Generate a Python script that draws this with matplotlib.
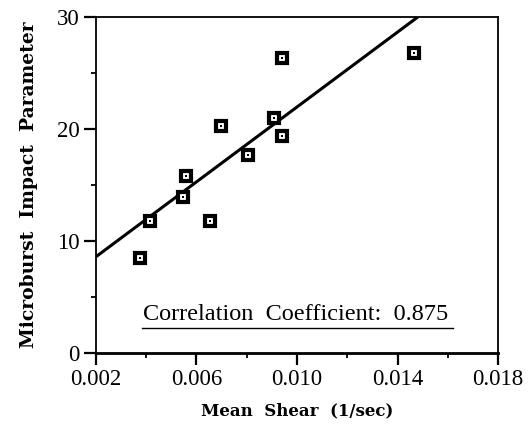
import numpy as np
import matplotlib.pyplot as plt
from matplotlib.ticker import MultipleLocator

plt.rcParams["font.family"] = ["Liberation Serif", "DejaVu Serif"]

# values
mean_shear = [0.00376, 0.00415, 0.00547, 0.00559, 0.00655, 0.00698,
              0.00804, 0.00908, 0.00941, 0.00941, 0.01466]
impact_param = [8.5, 11.8, 13.9, 15.8, 11.8, 20.3,
                17.7, 21.0, 26.3, 19.4, 26.8]
fit_x = [0.002, 0.0148]
fit_y = [8.6, 30.0]
corr_label = "Correlation  Coefficient:  0.875"

x_ticks = [0.002, 0.006, 0.010, 0.014, 0.018]
x_tick_labels = ["0.002", "0.006", "0.010", "0.014", "0.018"]
y_ticks = [0, 10, 20, 30]

fig = plt.figure(figsize=(5.3, 4.37), dpi=100)
ax = fig.add_axes([0.181, 0.192, 0.759, 0.769])

ax.plot(fit_x, fit_y, color="black", linewidth=2.2, solid_capstyle="butt")
# square symbols: black frame, white inside, black dot in the middle
ax.plot(mean_shear, impact_param, linestyle="none", marker="s",
        markersize=7.0, markerfacecolor="white", markeredgecolor="black",
        markeredgewidth=3.0)
ax.plot(mean_shear, impact_param, linestyle="none", marker="s",
        markersize=1.6, markerfacecolor="black", markeredgewidth=0)

ax.set_xlim(0.002, 0.018)
ax.set_ylim(0, 30)
ax.set_xticks(x_ticks)
ax.set_xticklabels(x_tick_labels)
ax.set_yticks(y_ticks)
ax.xaxis.set_minor_locator(MultipleLocator(0.002))
ax.yaxis.set_minor_locator(MultipleLocator(5))

for s in ax.spines.values():
    s.set_linewidth(1.3)
ax.spines["bottom"].set_linewidth(2.0)

ax.tick_params(which="major", direction="out", length=8.5, width=1.6,
               labelsize=16.5, pad=3)
ax.tick_params(which="minor", direction="out", length=3.5, width=1.3)

ax.text(0.497, 0.083, corr_label, transform=ax.transAxes, ha="center",
        va="bottom", fontsize=17.5)
ax.plot([0.115, 0.887], [0.075, 0.075], transform=ax.transAxes,
        color="black", linewidth=1.0)

ax.set_xlabel("Mean  Shear  (1/sec)", fontsize=12, fontweight="bold",
              family="DejaVu Serif", labelpad=9)
ax.set_ylabel("Microburst  Impact  Parameter", fontsize=13.5, fontweight="bold",
              family="DejaVu Serif", labelpad=14)

fig.savefig("out.png", dpi=100)
